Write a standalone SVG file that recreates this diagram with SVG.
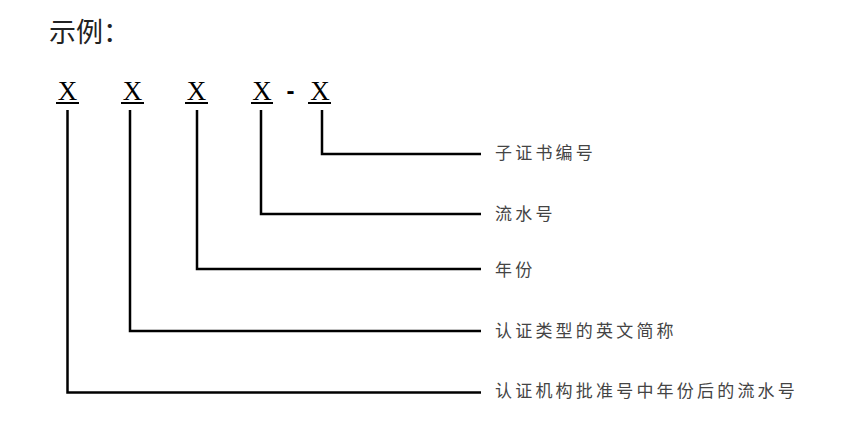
<svg xmlns="http://www.w3.org/2000/svg" width="867" height="431" viewBox="0 0 867 431">
<style>
.bg{fill:#fff}
.title{font-family:"Noto Sans CJK SC","Noto Sans",sans-serif;font-size:27px;fill:#222}
.x{font-family:"Liberation Serif","Times New Roman",serif;font-size:27px;fill:#000;text-anchor:middle}
.dash{font-family:"Liberation Sans",Arial,sans-serif;font-size:24px;font-weight:bold;fill:#000;text-anchor:middle}
.ul{stroke:#000;stroke-width:2;fill:none}
.lbl{font-family:"Noto Sans CJK SC","Noto Sans",sans-serif;font-size:17px;fill:#444;letter-spacing:3.2px}
.conn{stroke:#000;stroke-width:2.5;fill:none}
</style>
<rect class="bg" x="0" y="0" width="867" height="431"/>
<text class="title" x="49" y="42">示例：</text>
<g id="code">
<g id="x1"><text class="x" x="67.5" y="99.5">X</text><line class="ul" x1="56" y1="103" x2="79" y2="103"/></g>
<g id="x2"><text class="x" x="132.5" y="99.5">X</text><line class="ul" x1="121" y1="103" x2="144" y2="103"/></g>
<g id="x3"><text class="x" x="196.5" y="99.5">X</text><line class="ul" x1="185" y1="103" x2="208" y2="103"/></g>
<g id="x4"><text class="x" x="262" y="99.5">X</text><line class="ul" x1="251" y1="103" x2="273" y2="103"/></g>
<text class="dash" x="290.5" y="99">-</text>
<g id="x5"><text class="x" x="320" y="99.5">X</text><line class="ul" x1="308" y1="103" x2="331" y2="103"/></g>
</g>
<g id="connectors">
<polyline class="conn" points="322,110 322,154 481,154"/>
<polyline class="conn" points="261,110 261,214 481,214"/>
<polyline class="conn" points="197,110 197,269 481,269"/>
<polyline class="conn" points="130,110 130,331 481,331"/>
<polyline class="conn" points="67.5,110 67.5,392.5 481,392.5"/>
</g>
<g id="label1"><text class="lbl" x="495" y="159">子证书编号</text></g>
<g id="label2"><text class="lbl" x="495" y="220">流水号</text></g>
<g id="label3"><text class="lbl" x="495" y="275.5">年份</text></g>
<g id="label4"><text class="lbl" x="495" y="336.5">认证类型的英文简称</text></g>
<g id="label5"><text class="lbl" x="495" y="396.5">认证机构批准号中年份后的流水号</text></g>
</svg>
